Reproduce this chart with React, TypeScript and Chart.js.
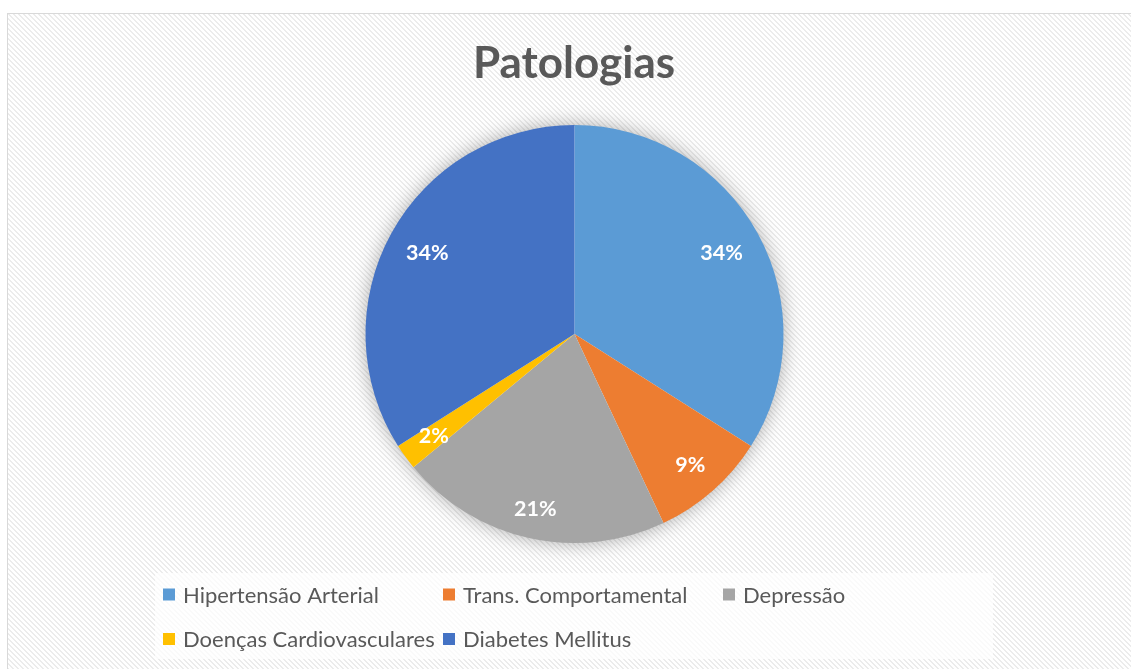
import React, { useEffect, useRef } from "react";
import { Chart, registerables } from "chart.js";

Chart.register(...registerables);

const TITLE = "Patologias";
const categories = [
  "Hipertensão Arterial",
  "Trans. Comportamental",
  "Depressão",
  "Doenças Cardiovasculares",
  "Diabetes Mellitus",
];
const values = [34, 9, 21, 2, 34];
const colors = ["#5B9BD5", "#ED7D31", "#A5A5A5", "#FFC000", "#4472C4"];

const FONT = "Lato, 'Open Sans', sans-serif";
const TEXT_COLOR = "#595959";

const W = 1130;
const H = 665;

const backgroundPlugin = {
  id: "bgPlugin",
  beforeDraw(chart: any) {
    const ctx = chart.ctx as CanvasRenderingContext2D;
    const w = chart.width;
    const h = chart.height;
    ctx.save();
    ctx.fillStyle = "#ffffff";
    ctx.fillRect(0, 0, w, h);
    const pc = document.createElement("canvas");
    pc.width = 5;
    pc.height = 5;
    const pctx = pc.getContext("2d")!;
    pctx.fillStyle = "#ffffff";
    pctx.fillRect(0, 0, 5, 5);
    pctx.fillStyle = "#ececec";
    for (let i = 0; i < 5; i++) {
      pctx.fillRect(i, i, 1, 1);
      pctx.fillRect((i + 1) % 5, i, 1, 1);
    }
    const pat = ctx.createPattern(pc, "repeat");
    if (pat) {
      ctx.fillStyle = pat;
      ctx.fillRect(0, 0, w, h);
    }
    ctx.strokeStyle = "#d9d9d9";
    ctx.lineWidth = 1;
    ctx.strokeRect(0.5, 0.5, w - 1, h - 1);

    // title
    ctx.fillStyle = TEXT_COLOR;
    ctx.font = `bold 44px ${FONT}`;
    ctx.textAlign = "center";
    ctx.textBaseline = "alphabetic";
    ctx.fillText(TITLE, 567, 65);

    // legend box
    ctx.fillStyle = "rgba(255,255,255,0.75)";
    ctx.fillRect(148, 560, 838, 86);

    const labels: string[] = chart.data.labels;
    const bg: string[] = chart.data.datasets[0].backgroundColor;
    const perRow = 3;
    const colW = 280;
    const rowH = 44.5;
    const x0 = 156;
    const y0 = 581.5;
    ctx.font = `22px ${FONT}`;
    ctx.textAlign = "left";
    ctx.textBaseline = "middle";
    labels.forEach((lab, i) => {
      const col = i % perRow;
      const row = Math.floor(i / perRow);
      const x = x0 + col * colW;
      const y = y0 + row * rowH;
      ctx.fillStyle = bg[i];
      ctx.fillRect(x, y - 6, 12, 12);
      ctx.fillStyle = TEXT_COLOR;
      ctx.fillText(lab, x + 20, y + 1);
    });
    ctx.restore();
  },
};

const shadowPlugin = {
  id: "pieShadow",
  beforeDatasetsDraw(chart: any) {
    const meta = chart.getDatasetMeta(0);
    const arc = meta.data[0];
    if (!arc) return;
    const { x, y, outerRadius } = arc.getProps(["x", "y", "outerRadius"], true);
    const ctx = chart.ctx as CanvasRenderingContext2D;
    ctx.save();
    ctx.shadowColor = "rgba(0,0,0,0.35)";
    ctx.shadowBlur = 20;
    ctx.fillStyle = "#ffffff";
    ctx.beginPath();
    ctx.arc(x, y, outerRadius - 1, 0, Math.PI * 2);
    ctx.fill();
    ctx.restore();
  },
};

const labelPlugin = {
  id: "pctLabels",
  afterDatasetsDraw(chart: any) {
    const ctx = chart.ctx as CanvasRenderingContext2D;
    const meta = chart.getDatasetMeta(0);
    const data: number[] = chart.data.datasets[0].data;
    const total = data.reduce((a, b) => a + b, 0);
    ctx.save();
    ctx.font = `bold 21.5px ${FONT}`;
    ctx.fillStyle = "#ffffff";
    ctx.textAlign = "center";
    ctx.textBaseline = "middle";
    meta.data.forEach((el: any, i: number) => {
      const { x, y, startAngle, endAngle, outerRadius } = el.getProps(
        ["x", "y", "startAngle", "endAngle", "outerRadius"],
        true
      );
      const txt = Math.round((data[i] / total) * 100) + "%";
      const mid = (startAngle + endAngle) / 2;
      const ux = Math.cos(mid);
      const uy = Math.sin(mid);
      const hw = ctx.measureText(txt).width / 2;
      const hh = 8;
      const D = outerRadius - 15;
      const b = Math.abs(ux) * (hw + 4) + Math.abs(uy) * hh;
      const c = (hw + 4) * (hw + 4) + hh * hh - D * D;
      const r = -b + Math.sqrt(b * b - c);
      ctx.fillText(txt, x + ux * r, y + uy * r);
    });
    ctx.restore();
  },
};

export default function App() {
  const ref = useRef<HTMLCanvasElement | null>(null);
  useEffect(() => {
    if (!ref.current) return;
    const chart = new Chart(ref.current, {
      type: "pie",
      data: {
        labels: categories,
        datasets: [
          {
            data: values,
            backgroundColor: colors,
            borderWidth: 0,
            hoverOffset: 0,
          },
        ],
      },
      options: {
        animation: false,
        responsive: true,
        maintainAspectRatio: false,
        events: [],
        layout: { padding: { top: 112, bottom: 135, left: 305, right: 300 } },
        plugins: {
          legend: { display: false },
          title: { display: false },
          tooltip: { enabled: false },
        },
      },
      plugins: [backgroundPlugin, shadowPlugin, labelPlugin],
    });
    return () => chart.destroy();
  }, []);
  return (
    <div style={{ position: "fixed", left: 0, top: 0, right: 0, bottom: 0, overflow: "hidden", background: "#fff" }}>
      <div style={{ position: "absolute", left: 7, top: 13, width: W, height: H }}>
        <canvas ref={ref} />
      </div>
    </div>
  );
}
